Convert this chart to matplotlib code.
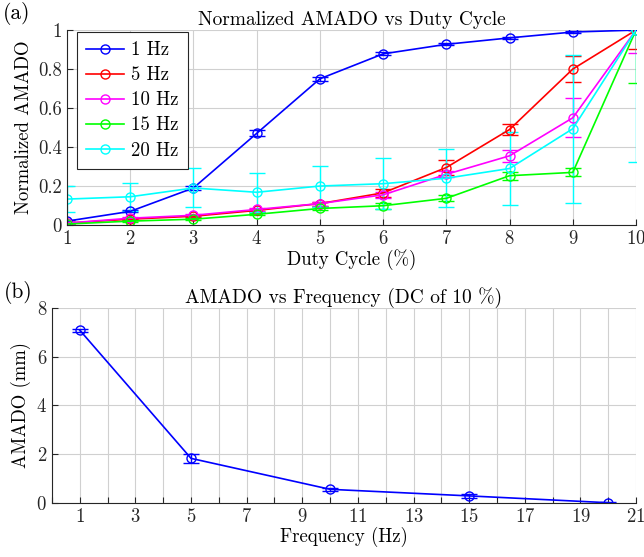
import matplotlib
matplotlib.use("Agg")
import matplotlib.pyplot as plt
import numpy as np

plt.rcParams['font.family'] = 'serif'
plt.rcParams['font.serif'] = ['cmr10', 'DejaVu Serif']
plt.rcParams['mathtext.fontset'] = 'cm'
plt.rcParams['axes.formatter.use_mathtext'] = True
plt.rcParams['axes.unicode_minus'] = False

# ---- panel (a) data ----
duty = [1, 2, 3, 4, 5, 6, 7, 8, 9, 10]
labels_a = ['1 Hz', '5 Hz', '10 Hz', '15 Hz', '20 Hz']
colors_a = ['#0000ff', '#ff0000', '#ff00ff', '#00ff00', '#00ffff']
hz1 = [0.02, 0.07, 0.19, 0.47, 0.75, 0.878, 0.927, 0.96, 0.99, 1.0]
hz1_err = [0.005, 0.005, 0.008, 0.015, 0.01, 0.008, 0.006, 0.005, 0.004, 0.0]
hz5 = [0.01, 0.03, 0.045, 0.075, 0.11, 0.165, 0.295, 0.49, 0.80, 1.0]
hz5_err = [0.004, 0.005, 0.006, 0.008, 0.01, 0.02, 0.04, 0.03, 0.065, 0.095]
hz10 = [0.01, 0.035, 0.05, 0.08, 0.11, 0.155, 0.26, 0.355, 0.55, 1.0]
hz10_err = [0.004, 0.005, 0.006, 0.008, 0.01, 0.015, 0.015, 0.03, 0.1, 0.12]
hz15 = [0.005, 0.02, 0.03, 0.055, 0.085, 0.099, 0.137, 0.253, 0.27, 1.0]
hz15_err = [0.003, 0.004, 0.005, 0.006, 0.008, 0.015, 0.015, 0.02, 0.02, 0.27]
hz20 = [0.133, 0.145, 0.19, 0.168, 0.2, 0.212, 0.24, 0.29, 0.494, 1.0]
hz20_err = [0.067, 0.072, 0.1, 0.1, 0.105, 0.13, 0.15, 0.185, 0.38, 0.675]

# ---- panel (b) data ----
freq = [1, 5, 10, 15, 20]
amado = [7.09, 1.83, 0.56, 0.29, 0.01]
amado_err = [0.06, 0.18, 0.06, 0.07, 0.02]

fig = plt.figure(figsize=(6.44, 5.57), dpi=100)
ax1 = fig.add_axes([0.104, 0.596, 0.8836, 0.350])
ax2 = fig.add_axes([0.0807, 0.097, 0.907, 0.350])

def style(ax):
    for s in ['top', 'right']:
        ax.spines[s].set_visible(False)
    for s in ['left', 'bottom']:
        ax.spines[s].set_color('#262626')
        ax.spines[s].set_linewidth(0.8)
    ax.tick_params(direction='in', which='both', length=4, labelsize=13.5,
                   colors='#262626', width=0.8)
    ax.grid(True, which='both', color='#d0d0d0', linewidth=0.8)
    ax.set_axisbelow(True)

series = [hz1, hz5, hz10, hz15, hz20]
errs = [hz1_err, hz5_err, hz10_err, hz15_err, hz20_err]
handles = []
for y, e, c, lab in zip(series, errs, colors_a, labels_a):
    cont = ax1.errorbar(duty, y, yerr=e, color=c, marker='o', mfc='none', ms=6.5,
                        mew=1.0, lw=1.2, capsize=6, elinewidth=1.0, capthick=1.0,
                        label=lab, clip_on=True)
    handles.append(cont[0])
ax1.set_xlim(1, 10)
ax1.set_ylim(0, 1)
ax1.set_xticks(duty)
ax1.set_yticks([0, 0.2, 0.4, 0.6, 0.8, 1.0])
ax1.set_yticklabels(['0', '0.2', '0.4', '0.6', '0.8', '1'])
style(ax1)
ax1.set_xlabel('Duty Cycle (%)', fontsize=13.5, labelpad=1)
ax1.set_ylabel('Normalized AMADO', fontsize=13.5, labelpad=4)
ax1.set_title('Normalized AMADO vs Duty Cycle', fontsize=14, pad=4)
leg = ax1.legend(handles, labels_a, loc='upper left',
                 bbox_to_anchor=(0.017, 0.99), borderaxespad=0.0,
                 fontsize=13.5, frameon=True,
                 fancybox=False, edgecolor='#262626', handlelength=2.0,
                 handletextpad=0.4, labelspacing=0.38,
                 borderpad=0.5, framealpha=1)
leg.get_frame().set_linewidth(0.8)

ax2.errorbar(freq, amado, yerr=amado_err, color='#0000ff', marker='o', mfc='none',
             ms=6.5, mew=1.0, lw=1.2, capsize=6, elinewidth=1.0, capthick=1.0)
ax2.set_xlim(0, 21)
ax2.set_ylim(0, 8)
ax2.set_xticks(range(1, 22, 2))
ax2.set_xticks(range(0, 22, 2), minor=True)
ax2.set_yticks([0, 2, 4, 6, 8])
style(ax2)
ax2.set_xlabel('Frequency (Hz)', fontsize=13.5, labelpad=1)
ax2.set_ylabel('AMADO (mm)', fontsize=13.5, labelpad=4)
ax2.set_title('AMADO vs Frequency (DC of 10 %)', fontsize=14, pad=4)

fig.text(0.005, 0.975, '(a)', fontsize=15.5, va='center', ha='left')
fig.text(0.006, 0.474, '(b)', fontsize=15.5, va='center', ha='left')

fig.savefig('out.png', dpi=100)
